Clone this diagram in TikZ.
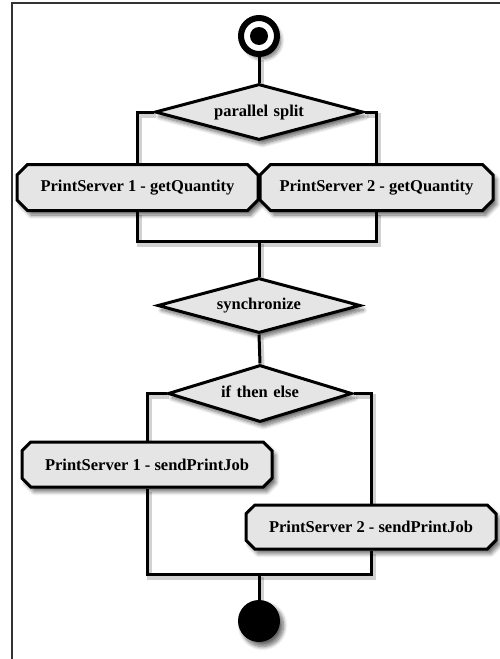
\documentclass[tikz,border=0pt]{standalone}
\usepackage{fontspec}
\setmainfont{Liberation Serif}
\usetikzlibrary{shapes.geometric, shapes.misc, shadows.blur}

\pgfdeclarelayer{background}
\pgfsetlayers{background,main}

\tikzset{
	soft shadow/.style={blur shadow={shadow xshift=3.5pt, shadow yshift=-4.5pt, shadow blur steps=8, shadow blur radius=4pt, shadow opacity=60}},
	flow/.style={draw=black, line width=3pt, fill=gray!20, inner sep=0pt,
		font=\fontsize{16.5}{19}\selectfont\bfseries, soft shadow},
	choice/.style={flow, diamond, text width=110pt, align=center, text height=12pt, text depth=4pt},
	task/.style={flow, chamfered rectangle, chamfered rectangle xsep=15pt, minimum height=46pt},
	link/.style={draw=black, line width=3pt,
		preaction={draw=black, opacity=0.18, line width=5pt, transform canvas={shift={(2pt,-3pt)}}}}
}

\begin{document}
\begin{tikzpicture}[x=1pt, y=-1pt]
			\def\w{500};
			\def\h{659};

			\useasboundingbox (0,0) rectangle (\w,\h);
			\draw[line width=2pt, black!80] (12,\h) -- (12,3) -- (\w,3);

			% start and end
			\node[circle, draw=black, fill=white, line width=6pt, minimum size=36pt, inner sep=0pt, soft shadow] (start) at (259,36) {};
			\fill (start.center) circle (9);
			\node[circle, fill=black, minimum size=42pt, inner sep=0pt, soft shadow] (stop) at (259,621) {};

			% parallel part
			\node[choice, aspect=2.75, minimum width=208pt] (split) at (259,112) {parallel split};
			\node[task, minimum width=241pt] (quantity1) at (137.5,187.5) {PrintServer 1 - getQuantity};
			\node[task, minimum width=233pt] (quantity2) at (376.5,187.5) {PrintServer 2 - getQuantity};
			\coordinate (join1) at (259,241);
			\node[choice, aspect=2.82, minimum width=203pt] (sync) at (259,305.5) {synchronize};

			% choice part
			\node[choice, aspect=2.68, minimum width=184pt] (ite) at (260,393.5) {if then else};
			\node[task, minimum width=250pt, minimum height=45pt] (job1) at (147,464.5) {PrintServer 1 - sendPrintJob};
			\node[task, minimum width=250pt, minimum height=44pt] (job2) at (371,527) {PrintServer 2 - sendPrintJob};
			\coordinate (join2) at (259,574);

			\begin{pgfonlayer}{background}
				\draw[link] (start) -- (split);
				\draw[link] (split.west) -| (quantity1.north);
				\draw[link] (split.east) -| (quantity2.north);
				\draw[link] (quantity1.south) |- (join1) -| (quantity2.south);
				\draw[link] (join1) -- (sync.north);
				\draw[link] (sync.south) -- (ite.north);
				\draw[link] (ite.west) -| (job1.north);
				\draw[link] (ite.east) -| (job2.north);
				\draw[link] (job1.south) |- (join2) -| (job2.south);
				\draw[link] (join2) -- (stop);
			\end{pgfonlayer}
		\end{tikzpicture}
\end{document}
